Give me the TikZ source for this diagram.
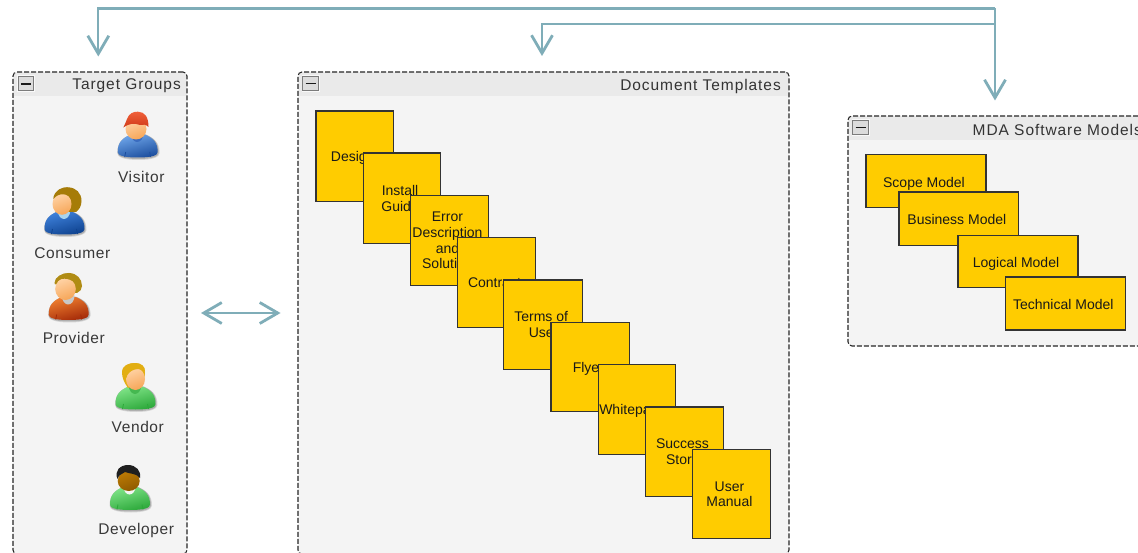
\documentclass[tikz,border=0pt]{standalone}
\usepackage{fontspec}
\setmainfont{Liberation Sans}
\newfontfamily\spacedfont[LetterSpace=4]{Liberation Sans}
\newfontfamily\titlefont[LetterSpace=6]{Liberation Sans}
\usetikzlibrary{arrows.meta}
\definecolor{flowc}{HTML}{7FADB8}
\definecolor{panelbg}{HTML}{F4F4F4}
\definecolor{headbg}{HTML}{EAEAEA}
\definecolor{boxc}{HTML}{FFCC00}
\definecolor{btnfill}{HTML}{DCDCDC}
\definecolor{btnedge}{HTML}{7C7C7C}
\definecolor{bluelight}{HTML}{6FA6EA}
\definecolor{bluedark}{HTML}{1C4E9E}
\definecolor{bluemid}{HTML}{3A6CC0}
\definecolor{blue2light}{HTML}{3F82DC}
\definecolor{blue2dark}{HTML}{0F4390}
\definecolor{collarblue}{HTML}{A8D4EE}
\definecolor{redlight}{HTML}{F08030}
\definecolor{reddark}{HTML}{A42A08}
\definecolor{collargrey}{HTML}{C8C8C8}
\definecolor{greenlight}{HTML}{80E488}
\definecolor{greendark}{HTML}{2CA83A}
\definecolor{greenmid}{HTML}{45B850}
\definecolor{collarwhite}{HTML}{F4F4F4}
\definecolor{skinin}{HTML}{FFD2A4}
\definecolor{skinout}{HTML}{F6A658}
\definecolor{darkskinin}{HTML}{BC7A04}
\definecolor{darkskinout}{HTML}{8E5A00}
\definecolor{caplight}{HTML}{F0603A}
\definecolor{capdark}{HTML}{D03A18}
\definecolor{hairbrown}{HTML}{A67C08}
\definecolor{hairolive}{HTML}{B08C14}
\definecolor{hairyellow}{HTML}{E2AE12}
% text block, moved 2 left and by #1 down of the box centre
\newcommand\boxlines[2][5.5]{\hspace*{-4pt}\raisebox{-#1pt}[0pt][0pt]{\begin{tabular}{@{}c@{}}#2\end{tabular}}}
\tikzset{
  panelbox/.style={anchor=north west,inner sep=0,outer sep=0,draw=black!85,line width=1.05pt,
    dash pattern=on 5pt off 2pt,rounded corners=4pt},
  btnbox/.style={inner sep=0,outer sep=0,minimum width=18pt,minimum height=16.5pt,
    fill=white!70!headbg,draw=none},
  btnin/.style={fill=btnfill,draw=btnedge,line width=1pt},
  btnmin/.style={draw=black!90,line width=1.9pt},
  doc/.style={anchor=north west,inner sep=0,outer sep=0,fill=boxc,draw=black!80,line width=1.2pt,
    font=\fontsize{14}{15.7}\selectfont,text=black!90},
  who/.style={inner sep=0,font=\fontsize{15.5}{17}\spacedfont,text=black!78},
  ptitle/.style={inner sep=0,font=\fontsize{15.5}{17}\titlefont,text=black!80},
  flow/.style={draw=flowc,line width=2.3pt,-{Straight Barb[length=18pt,width=21pt,line width=2.8pt]}},
  flowsplit/.style={draw=flowc,line width=2.3pt,{Straight Barb[length=18pt,width=21pt,line width=2.8pt]}-{Straight Barb[length=18pt,width=21pt,line width=2.8pt]}},
}
% name, x1, y1, x2, y2, header bottom
\newcommand\panelshape[6]{%
  \fill[panelbg,rounded corners=4pt] (#2,#3) rectangle (#4,#5);
  \fill[headbg] (#2+0.5,#6) {[rounded corners=3.5pt] -- (#2+0.5,#3+0.5) -- (#4-0.5,#3+0.5)} -- (#4-0.5,#6) -- cycle;
  \pgfmathsetmacro\pw{#4-#2}\pgfmathsetmacro\ph{#5-#3}
  \node[panelbox,minimum width=\pw pt,minimum height=\ph pt] (#1) at (#2,#3) {};
}
\newcommand\minusbtn[3]{%
  \node[btnbox] (#1) at (#2,#3) {};
  \draw[btnin] ([xshift=-7.7pt,yshift=6.8pt]#1.center) rectangle ([xshift=7.7pt,yshift=-6.8pt]#1.center);
  \draw[btnmin] ([xshift=-5pt]#1.center) -- ([xshift=5pt]#1.center);
}
% bottom-centre x, y, light, dark, collar
\newcommand\figbody[5]{%
  \begin{scope}[shift={(#1,#2)}]
    \fill[black,opacity=.12] (-20.5,-5) .. controls (-20.5,-16) and (-15,-20) .. (-7,-23.5) -- (8,-23.5) .. controls (16,-20) and (22,-16) .. (22,-5) .. controls (22,-1) and (15,2) .. (1,2) .. controls (-14,2) and (-20.5,-1) .. (-20.5,-5) -- cycle;
    \fill[black,opacity=.18] (-20,-5) .. controls (-20,-16) and (-15,-20) .. (-7,-23.5) -- (8,-23.5) .. controls (16,-20) and (21,-16) .. (21,-5) .. controls (21,-1.5) and (15,1) .. (1,1) .. controls (-14,1) and (-20,-1.5) .. (-20,-5) -- cycle;
    \shade[top color=#3,bottom color=#4,shading angle=15] (-20,-6) .. controls (-20,-16) and (-15,-20) .. (-7,-23.5) -- (7,-23.5) .. controls (15,-20) and (20,-16) .. (20,-6) .. controls (20,-2.5) and (14,-0.5) .. (0,-0.5) .. controls (-14,-0.5) and (-20,-2.5) .. (-20,-6) -- cycle;
    \draw[#4,line width=.8pt] (-13,-1) .. controls (-13,-3) and (-12.5,-4) .. (-12,-6);
    \draw[#4,line width=.8pt] (13,-1) .. controls (13,-3) and (12.5,-4) .. (12,-6);
    \fill[#5] (-7,-25) .. controls (-6,-13) and (5,-13) .. (6,-25) -- cycle;
  \end{scope}
}
% x, y, rx, ry, light, dark
\newcommand\figface[6]{%
  \shade[left color=#5,right color=#6,shading angle=20] (#1,#2) ellipse [x radius=#3,y radius=#4];
}
\begin{document}
\begin{tikzpicture}[x=1pt,y=-1pt]
\clip (0,0) rectangle (1138,553);
\fill[white] (0,0) rectangle (1138,553);

\panelshape{tg}{13}{72}{187}{554}{96}
\panelshape{dt}{298}{72}{789}{554}{96}
\panelshape{mda}{848}{116}{1142}{346}{140}

\minusbtn{tgb}{25.8}{83.7}
\minusbtn{dtb}{310.5}{83.5}
\minusbtn{mdab}{860.5}{127.5}

\node[ptitle,anchor=east] (tgt) at (181,86) {Target Groups};
\node[ptitle,anchor=east] (dtt) at (781,86) {Document Templates};
\node[ptitle,anchor=west] (mdat) at (972.5,130) {MDA Software Models};

% connectors
\coordinate (hub) at (995,8.5);
\coordinate (fork) at (995,24);
\coordinate (tgin) at ([xshift=-1.7pt,yshift=15.5pt]tg.north);
\coordinate (dtin) at ([xshift=-1.5pt,yshift=16pt]dt.north);
\coordinate (mdain) at ([yshift=15.5pt]mda.north);
\draw[flow] (hub) -| (tgin);
\draw[flow] (fork) -| (dtin);
\draw[flow] (hub) -- (mdain);
\draw[flowsplit] ([xshift=14pt]tg.east) -- ([xshift=-17.5pt]dt.west);

% documents
\node[doc,minimum width=77.5pt,minimum height=90.5pt] (d1) at (316,111) {\boxlines{Design}};
\node[doc,minimum width=77.5pt,minimum height=90.5pt] (d2) at (363.3,153) {\boxlines{Install\\Guide}};
\node[doc,minimum width=77.5pt,minimum height=90pt] (d3) at (410.7,195.3) {\boxlines{Error\\Description\\and\\Solution}};
\node[doc,minimum width=77.5pt,minimum height=89.5pt] (d4) at (457.7,237.7) {\boxlines{Contract}};
\node[doc,minimum width=79pt,minimum height=89.5pt] (d5) at (503.7,280) {\boxlines{Terms of\\Use}};
\node[doc,minimum width=78.7pt,minimum height=89.5pt] (d6) at (551,322.3) {\boxlines{Flyer}};
\node[doc,minimum width=77.5pt,minimum height=89.5pt] (d7) at (598.3,364.7) {\boxlines{Whitepaper}};
\node[doc,minimum width=77.5pt,minimum height=89.5pt] (d8) at (645.7,407) {\boxlines{Success\\Story}};
\node[doc,minimum width=77.5pt,minimum height=89.5pt] (d9) at (692.7,449.3) {\boxlines{User\\Manual}};

% models
\node[doc,minimum width=120pt,minimum height=53.4pt] (m1) at (866,154.3) {\boxlines[6.5]{Scope Model}};
\node[doc,minimum width=119.7pt,minimum height=53.3pt] (m2) at (899,192) {\boxlines[6.5]{Business Model}};
\node[doc,minimum width=120pt,minimum height=52pt] (m3) at (958,235.7) {\boxlines[6.5]{Logical Model}};
\node[doc,minimum width=120pt,minimum height=53pt] (m4) at (1005.3,277) {\boxlines[6.5]{Technical Model}};

% Visitor
\figbody{137.7}{158}{bluelight}{bluedark}{bluemid}
\figface{136}{129}{10.5}{10.5}{skinin}{skinout}
\shade[top color=caplight,bottom color=capdark]
  (123.3,127.5) .. controls (125,124) and (126,122) .. (127,119) .. controls (129,113) and (134,111.5) .. (138,111.7)
  .. controls (145,112) and (148.5,117) .. (148.5,127) .. controls (146,124.5) and (143,124) .. (140,125)
  .. controls (134,122.5) and (128,124) .. (123.3,127.5) -- cycle;
\node[who] (visitor) at (141.3,176.5) {Visitor};

% Consumer
\figbody{64.5}{235}{blue2light}{blue2dark}{collarblue}
\fill[hairbrown] (54,197) .. controls (55,190) and (62,187) .. (68,187.3) .. controls (76,187.5) and (81.5,193) .. (81.5,201)
  .. controls (81.5,206) and (79,210) .. (76,212) -- (66,212) -- (62,200) -- cycle;
\figface{62}{204}{9.5}{10.8}{skinin}{skinout}
\fill[hairbrown] (53.3,199) .. controls (53.5,191) and (62,187) .. (68,187.3) -- (72,200) .. controls (68,193) and (59,192) .. (53.3,199) -- cycle;
\node[who] (consumer) at (72.3,252.8) {Consumer};

% Provider
\figbody{68.7}{320.5}{redlight}{reddark}{collargrey}
\fill[hairolive] (54.5,284) .. controls (55.5,277) and (62,273) .. (69,273) .. controls (77,273.2) and (82,279) .. (82,286)
  .. controls (82,289) and (80,292) .. (77,293) -- (66,293) -- (62,286) -- cycle;
\figface{65.5}{289}{10.3}{11}{skinin}{skinout}
\fill[hairolive] (54.5,283) .. controls (54.5,277) and (62,273) .. (69,273) -- (75,283) .. controls (69,277.5) and (60,277) .. (54.5,283) -- cycle;
\node[who] (provider) at (73.8,338.3) {Provider};

% Vendor
\figbody{135.5}{410}{greenlight}{greendark}{greenmid}
\fill[hairyellow] (122,372) .. controls (123,365) and (130,363) .. (135,363) .. controls (141,363) and (145.5,367) .. (145,374)
  -- (144,380) -- (128,388) .. controls (124,382) and (122,378) .. (122,372) -- cycle;
\figface{135.5}{379}{9.5}{11}{skinin}{skinout}
\fill[hairyellow] (126.3,378) .. controls (128,370) and (139,366) .. (145,372) .. controls (145.5,366) and (141,363) .. (135,363)
  .. controls (128,363) and (122,366) .. (122,372) .. controls (122,375) and (124,377) .. (126.3,378) -- cycle;
\node[who] (vendor) at (137.8,427.3) {Vendor};

% Developer
\figbody{130}{510.5}{greenlight}{greendark}{collarwhite}
\figface{128.7}{481}{11}{10}{darkskinin}{darkskinout}
\fill[black!88] (117.5,479) .. controls (118.5,475) and (122,474) .. (125,472) .. controls (130,474) and (136,473) .. (140,478)
  .. controls (141.5,471) and (136,465) .. (128,465) .. controls (120,465) and (114,471) .. (117.5,479) -- cycle;
\node[who] (developer) at (136.2,530) {Developer};
\end{tikzpicture}
\end{document}
